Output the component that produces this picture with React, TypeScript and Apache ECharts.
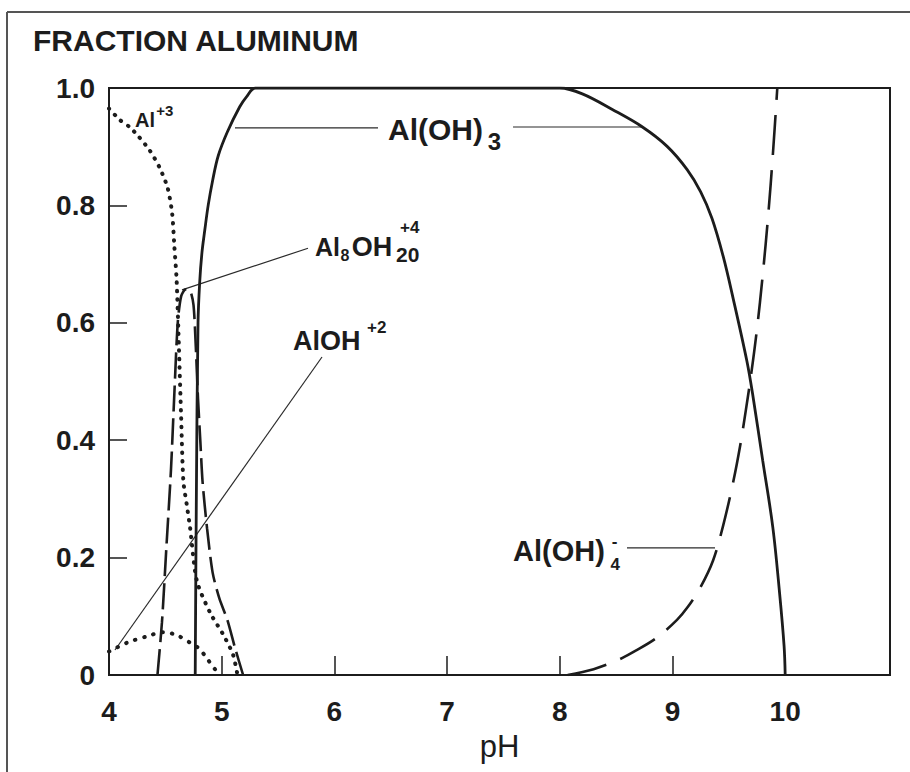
import React, { useEffect, useRef } from 'react';
import * as echarts from 'echarts';

// Axis ticks
const phTicks = [4, 5, 6, 7, 8, 9, 10];
const fracTicks = [0, 0.2, 0.4, 0.6, 0.8, 1.0];

// Al+3 (dotted)
const al3PH = [4.0, 4.1, 4.18, 4.26, 4.36, 4.45, 4.52, 4.56, 4.58, 4.6, 4.62, 4.64, 4.66, 4.69, 4.72, 4.78, 4.9, 5.01, 5.1, 5.14];
const al3Frac = [0.965, 0.945, 0.934, 0.918, 0.894, 0.864, 0.83, 0.787, 0.73, 0.673, 0.56, 0.44, 0.33, 0.29, 0.25, 0.16, 0.105, 0.07, 0.035, 0.0];

// AlOH+2 (dotted)
const alOH2PH = [4.0, 4.16, 4.34, 4.48, 4.6, 4.72, 4.8, 4.87, 4.94, 5.0];
const alOH2Frac = [0.04, 0.055, 0.066, 0.073, 0.068, 0.055, 0.045, 0.028, 0.01, 0.0];

// Al8(OH)20+4 (dashed)
const al8PH = [4.43, 4.47, 4.51, 4.55, 4.58, 4.61, 4.64, 4.68, 4.72, 4.75, 4.77, 4.79, 4.81, 4.83, 4.87, 4.92, 4.98, 5.05, 5.12, 5.19];
const al8Frac = [0, 0.09, 0.22, 0.35, 0.48, 0.6, 0.645, 0.657, 0.655, 0.63, 0.56, 0.47, 0.4, 0.33, 0.25, 0.174, 0.13, 0.094, 0.045, 0];

// Al(OH)3 (solid)
const alOH3PH = [4.765, 4.775, 4.79, 4.805, 4.825, 4.85, 4.88, 4.92, 4.97, 5.05, 5.16, 5.22, 5.3, 6.0, 7.0, 8.0, 8.2, 8.47, 8.73, 8.95, 9.13, 9.25, 9.35, 9.45, 9.54, 9.66, 9.71, 9.8, 9.89, 9.95, 9.99, 10.0];
const alOH3Frac = [0, 0.3, 0.6, 0.67, 0.72, 0.758, 0.8, 0.843, 0.885, 0.925, 0.968, 0.985, 1.0, 1.0, 1.0, 1.0, 0.99, 0.963, 0.934, 0.901, 0.861, 0.823, 0.778, 0.713, 0.64, 0.535, 0.48, 0.366, 0.252, 0.14, 0.05, 0];

// Al(OH)4- (long dashed)
const alOH4PH = [8.07, 8.3, 8.51, 8.65, 8.85, 9.04, 9.14, 9.25, 9.36, 9.45, 9.54, 9.6, 9.65, 9.7, 9.75, 9.8, 9.85, 9.89, 9.93];
const alOH4Frac = [0, 0.01, 0.025, 0.039, 0.062, 0.094, 0.117, 0.15, 0.195, 0.255, 0.33, 0.39, 0.45, 0.515, 0.59, 0.68, 0.785, 0.885, 1.0];

export default function App() {
  const ref = useRef<HTMLDivElement>(null);

  useEffect(() => {
    const chart = echarts.init(ref.current!, null, { renderer: 'svg' });
    const ink = '#1c1c1c';
    const font = 'Liberation Sans, Arial, sans-serif';
    const pair = (xs: number[], ys: number[]) => xs.map((x, i) => [x, ys[i]]);

    const series: any[] = [
      {
        name: 'Al+3', type: 'line', data: pair(al3PH, al3Frac), showSymbol: false, smooth: 0.25,
        lineStyle: { color: ink, width: 4, type: [0.5, 8], cap: 'round' },
      },
      {
        name: 'AlOH+2', type: 'line', data: pair(alOH2PH, alOH2Frac), showSymbol: false, smooth: 0.3,
        lineStyle: { color: ink, width: 4, type: [0.5, 9], cap: 'round' },
      },
      {
        name: 'Al8OH20+4', type: 'line', data: pair(al8PH, al8Frac), showSymbol: false, smooth: 0.25,
        lineStyle: { color: ink, width: 2.6, type: [26, 7] },
      },
      {
        name: 'Al(OH)3', type: 'line', data: pair(alOH3PH, alOH3Frac), showSymbol: false, smooth: 0.35,
        lineStyle: { color: ink, width: 2.8, type: 'solid' },
      },
      {
        name: 'Al(OH)4-', type: 'line', data: pair(alOH4PH, alOH4Frac), showSymbol: false, smooth: 0.35,
        lineStyle: { color: ink, width: 2.6, type: [40, 15] },
      },
    ];

    chart.setOption({
      animation: false,
      backgroundColor: '#ffffff',
      grid: { left: 109, top: 88, width: 781, height: 587, show: true, borderColor: ink, borderWidth: 2, backgroundColor: 'transparent' },
      xAxis: {
        type: 'value', min: phTicks[0], max: 10.93, interval: 1,
        axisLine: { show: true, lineStyle: { color: ink, width: 2 } },
        axisTick: { show: true, inside: true, length: 19, lineStyle: { color: ink, width: 1.5 } },
        axisLabel: {
          margin: 22, color: ink, fontFamily: font, fontWeight: 'bold', fontSize: 28,
          formatter: (v: number) => (phTicks.includes(v) ? String(v) : ''),
        },
        splitLine: { show: false },
        name: 'pH', nameLocation: 'middle', nameGap: 56,
        nameTextStyle: { color: ink, fontFamily: font, fontSize: 31 },
      },
      yAxis: {
        type: 'value', min: fracTicks[0], max: fracTicks[fracTicks.length - 1], interval: 0.2,
        axisLine: { show: true, lineStyle: { color: ink, width: 2 } },
        axisTick: { show: true, inside: true, length: 18, lineStyle: { color: ink, width: 1.5 } },
        axisLabel: {
          margin: 14, color: ink, fontFamily: font, fontWeight: 'bold', fontSize: 28,
          formatter: (v: number) => (Math.abs(v) < 1e-9 ? '0' : v.toFixed(1)),
        },
        splitLine: { show: false },
      },
      series,
    });

    const px = (x: number, y: number) => chart.convertToPixel({ gridIndex: 0 }, [x, y]) as number[];
    const line = (a: number[], b: number[]) => {
      const p = px(a[0], a[1]);
      const q = px(b[0], b[1]);
      return { type: 'line', silent: true, shape: { x1: p[0], y1: p[1], x2: q[0], y2: q[1] }, style: { stroke: '#2a2a2a', lineWidth: 1.2 } };
    };
    const label = (text: string, at: number[], size: number, weight = 'bold') => {
      const p = px(at[0], at[1]);
      return {
        type: 'text', silent: true, x: p[0], y: p[1],
        style: { text, fill: ink, font: `${weight} ${size}px ${font}`, textAlign: 'left', textVerticalAlign: 'middle' },
      };
    };

    chart.setOption({
      graphic: [
        // outer frame
        { type: 'line', silent: true, shape: { x1: 7, y1: 12, x2: 910, y2: 12 }, style: { stroke: '#555', lineWidth: 2 } },
        { type: 'line', silent: true, shape: { x1: 7, y1: 12, x2: 7, y2: 772 }, style: { stroke: '#555', lineWidth: 2 } },
        // title
        { type: 'text', silent: true, x: 33, y: 40, style: { text: 'FRACTION ALUMINUM', fill: ink, font: `bold 30px ${font}`, textAlign: 'left', textVerticalAlign: 'middle' } },
        // leader lines
        line([5.118, 0.932], [6.387, 0.932]),
        line([7.585, 0.9336], [8.729, 0.9336]),
        line([4.648, 0.656], [5.766, 0.727]),
        line([5.89, 0.5417], [4.053, 0.0426]),
        line([8.596, 0.2164], [9.377, 0.2164]),
        // Al+3
        label('Al', [4.231, 0.9455], 20),
        label('+3', [4.42, 0.9625], 15),
        // Al(OH)3
        label('Al(OH)', [6.476, 0.93], 30),
        label('3', [7.36, 0.9097], 24),
        // Al8OH20+4
        label('Al', [5.828, 0.729], 25),
        label('8', [6.055, 0.7147], 16),
        label('OH', [6.155, 0.729], 27),
        label('20', [6.547, 0.7172], 21),
        label('+4', [6.582, 0.7632], 17),
        // AlOH+2
        label('AlOH', [5.633, 0.569], 27),
        label('+2', [6.29, 0.592], 17),
        // Al(OH)4-
        label('Al(OH)', [7.585, 0.2112], 29),
        label('4', [8.45, 0.189], 17),
        label('-', [8.46, 0.228], 17),
      ],
    });

    return () => chart.dispose();
  }, []);

  return <div ref={ref} style={{ position: 'fixed', left: 0, top: 0, width: 910, height: 772, background: '#fff' }} />;
}
